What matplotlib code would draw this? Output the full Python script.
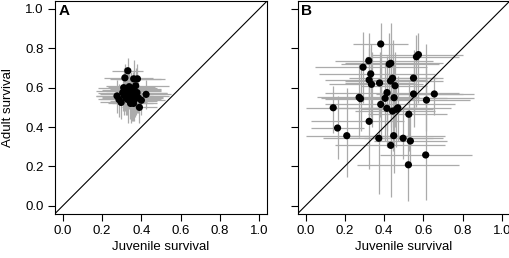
import matplotlib
matplotlib.use("Agg")
import matplotlib.pyplot as plt
import numpy as np

plt.rcParams['font.family'] = ['Liberation Sans', 'DejaVu Sans']

# Panel A: estimates and 95% limits
a_x = [0.331, 0.316, 0.361, 0.380, 0.371, 0.424, 0.390, 0.276, 0.286, 0.297, 0.310,
       0.318, 0.325, 0.335, 0.345, 0.340, 0.350, 0.330, 0.355, 0.365, 0.372, 0.385,
       0.400, 0.313, 0.322, 0.345, 0.360, 0.378, 0.305, 0.338, 0.355]
a_y = [0.686, 0.650, 0.645, 0.645, 0.610, 0.566, 0.500, 0.558, 0.540, 0.525, 0.600,
       0.585, 0.570, 0.590, 0.575, 0.555, 0.545, 0.540, 0.530, 0.540, 0.560, 0.548,
       0.536, 0.560, 0.548, 0.520, 0.520, 0.575, 0.575, 0.605, 0.595]
a_xlo = [0.25, 0.21, 0.24, 0.27, 0.22, 0.30, 0.30, 0.17, 0.18, 0.19, 0.18,
         0.17, 0.19, 0.20, 0.22, 0.20, 0.23, 0.19, 0.24, 0.26, 0.25, 0.27,
         0.29, 0.17, 0.20, 0.23, 0.25, 0.26, 0.18, 0.23, 0.24]
a_xhi = [0.41, 0.46, 0.52, 0.50, 0.54, 0.55, 0.48, 0.40, 0.42, 0.43, 0.48,
         0.50, 0.52, 0.50, 0.53, 0.51, 0.49, 0.47, 0.48, 0.50, 0.54, 0.51,
         0.52, 0.46, 0.44, 0.46, 0.48, 0.53, 0.44, 0.47, 0.50]
a_ylo = [0.62, 0.56, 0.55, 0.56, 0.50, 0.49, 0.42, 0.47, 0.45, 0.44, 0.50,
         0.48, 0.46, 0.49, 0.47, 0.44, 0.43, 0.42, 0.43, 0.45, 0.46, 0.47,
         0.46, 0.46, 0.46, 0.42, 0.43, 0.47, 0.48, 0.52, 0.51]
a_yhi = [0.75, 0.72, 0.74, 0.72, 0.70, 0.64, 0.58, 0.64, 0.62, 0.61, 0.70,
         0.68, 0.67, 0.69, 0.68, 0.66, 0.66, 0.64, 0.63, 0.63, 0.66, 0.63,
         0.61, 0.66, 0.64, 0.61, 0.61, 0.67, 0.67, 0.69, 0.68]

# Panel B
b_x = [0.383, 0.575, 0.565, 0.322, 0.293, 0.434, 0.426, 0.332, 0.324, 0.336,
       0.377, 0.443, 0.433, 0.456, 0.550, 0.415, 0.405, 0.451, 0.273, 0.280,
       0.141, 0.383, 0.414, 0.443, 0.470, 0.463, 0.550, 0.616, 0.656, 0.526,
       0.324, 0.163, 0.210, 0.373, 0.449, 0.497, 0.534, 0.434, 0.612, 0.524]
b_y = [0.822, 0.768, 0.757, 0.737, 0.704, 0.724, 0.719, 0.670, 0.639, 0.617,
       0.624, 0.648, 0.634, 0.610, 0.649, 0.575, 0.546, 0.549, 0.551, 0.544,
       0.498, 0.515, 0.495, 0.481, 0.498, 0.490, 0.568, 0.537, 0.568, 0.465,
       0.429, 0.395, 0.356, 0.343, 0.356, 0.343, 0.329, 0.307, 0.258, 0.208]
b_xlo = [0.24, 0.34, 0.31, 0.15, 0.05, 0.20, 0.18, 0.07, 0.10, 0.12,
         0.20, 0.22, 0.20, 0.28, 0.40, 0.10, 0.08, 0.22, 0.06, 0.10,
         0.00, 0.10, 0.12, 0.25, 0.30, 0.28, 0.36, 0.42, 0.45, 0.32,
         0.03, 0.03, 0.00, 0.09, 0.22, 0.30, 0.35, 0.15, 0.38, 0.26]
b_xhi = [0.52, 0.80, 0.78, 0.65, 0.62, 0.70, 0.68, 0.66, 0.62, 0.60,
         0.56, 0.67, 0.70, 0.62, 0.70, 0.78, 0.86, 0.72, 0.58, 0.55,
         0.56, 0.76, 0.74, 0.66, 0.62, 0.65, 0.80, 0.84, 0.86, 0.72,
         0.50, 0.30, 0.52, 0.65, 0.71, 0.70, 0.72, 0.71, 0.85, 0.78]
b_ylo = [0.52, 0.52, 0.50, 0.55, 0.52, 0.52, 0.50, 0.45, 0.42, 0.40,
         0.45, 0.45, 0.40, 0.40, 0.47, 0.38, 0.33, 0.36, 0.35, 0.38,
         0.37, 0.33, 0.30, 0.28, 0.33, 0.30, 0.40, 0.38, 0.46, 0.28,
         0.185, 0.24, 0.144, 0.06, 0.166, 0.24, 0.20, 0.046, 0.03, 0.025]
b_yhi = [0.93, 0.88, 0.87, 0.88, 0.885, 0.93, 0.88, 0.82, 0.80, 0.78,
         0.78, 0.84, 0.82, 0.78, 0.79, 0.76, 0.73, 0.72, 0.72, 0.70,
         0.61, 0.70, 0.68, 0.66, 0.66, 0.64, 0.73, 0.70, 0.66, 0.63,
         0.62, 0.56, 0.60, 0.52, 0.57, 0.50, 0.48, 0.62, 0.82, 0.47]

ticks = [0.0, 0.2, 0.4, 0.6, 0.8, 1.0]
tick_labels = ["0.0", "0.2", "0.4", "0.6", "0.8", "1.0"]


def panel(ax, x, y, xlo, xhi, ylo, yhi, letter, show_y):
    x = np.array(x); y = np.array(y)
    xerr = [x - np.array(xlo), np.array(xhi) - x]
    yerr = [y - np.array(ylo), np.array(yhi) - y]
    ax.errorbar(x, y, xerr=xerr, yerr=yerr, fmt='none', ecolor='#ababab',
                elinewidth=0.9, capsize=0, zorder=1)
    ax.plot([-0.04, 1.04], [-0.04, 1.04], color='black', lw=0.8, zorder=2)
    ax.scatter(x, y, s=27, c='black', edgecolors='none', zorder=3)
    ax.set_xlim(-0.04, 1.04)
    ax.set_ylim(-0.04, 1.04)
    ax.set_xticks(ticks)
    ax.set_xticklabels(tick_labels)
    ax.set_yticks(ticks)
    if show_y:
        ax.set_yticklabels(tick_labels)
        ax.set_ylabel("Adult survival", fontsize=9.5, labelpad=8)
    else:
        ax.set_yticklabels([])
    ax.set_xlabel("Juvenile survival", fontsize=9.5, labelpad=3)
    ax.tick_params(direction='out', length=5, width=0.8, labelsize=9.5, pad=3)
    for s in ax.spines.values():
        s.set_linewidth(0.8)
    ax.text(0.015, 0.985, letter, transform=ax.transAxes, fontsize=11,
            fontweight='bold', va='top', ha='left')


fig = plt.figure(figsize=(5.1, 2.58), dpi=100)
ax_a = fig.add_axes([55 / 510, 44.4 / 258, 212 / 510, 212.5 / 258])
ax_b = fig.add_axes([297.7 / 510, 44.4 / 258, 212 / 510, 212.5 / 258])

panel(ax_a, a_x, a_y, a_xlo, a_xhi, a_ylo, a_yhi, "A", True)
panel(ax_b, b_x, b_y, b_xlo, b_xhi, b_ylo, b_yhi, "B", False)

fig.savefig("out.png", dpi=100)
